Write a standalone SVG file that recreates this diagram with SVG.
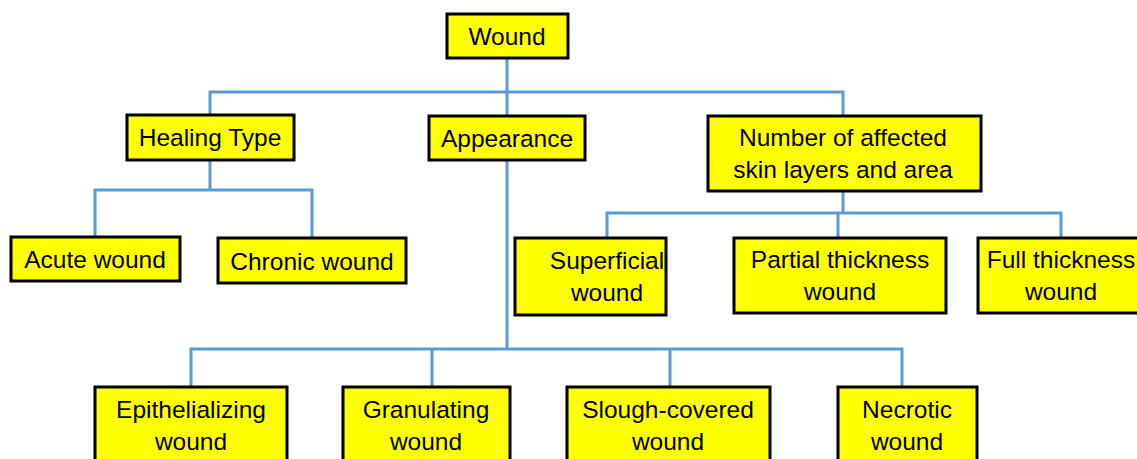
<svg xmlns="http://www.w3.org/2000/svg" width="1137" height="459" viewBox="0 0 1137 459">
<style>
.box{fill:#FFFF00;stroke:#000;stroke-width:3}
.t{font-family:"Liberation Sans",Arial,sans-serif;font-size:24.5px;fill:#000;text-anchor:middle}
.c{fill:none;stroke:#5B9BD5;stroke-width:3}
</style>
<rect width="1137" height="459" fill="#fff"/>
<g id="connectors">
<path class="c" d="M507 58V116M210 115V92H843V116"/>
<path class="c" d="M210 160V190M95 237V190H312V238"/>
<path class="c" d="M843 191V213M607 238V213H1061V238M838 213V238"/>
<path class="c" d="M507 160V349M191 387V349H902V387M432 349V387M670 349V387"/>
</g>
<g id="wound"><rect class="box" x="447" y="14" width="121" height="44"/><text class="t" x="507" y="45">Wound</text></g>
<g id="healing"><rect class="box" x="127" y="115" width="167" height="45"/><text class="t" x="210" y="146">Healing Type</text></g>
<g id="appearance"><rect class="box" x="429" y="116" width="156" height="44"/><text class="t" x="507" y="147">Appearance</text></g>
<g id="layers"><rect class="box" x="708" y="116" width="273" height="75"/><text class="t" x="843" y="146">Number of affected</text><text class="t" x="843" y="178">skin layers and area</text></g>
<g id="acute"><rect class="box" x="11" y="237" width="169" height="44"/><text class="t" x="95" y="268">Acute wound</text></g>
<g id="chronic"><rect class="box" x="218" y="238" width="188" height="45"/><text class="t" x="312" y="270">Chronic wound</text></g>
<g id="superficial"><rect class="box" x="515" y="238" width="151" height="77"/><text class="t" x="607" y="269">Superficial</text><text class="t" x="607" y="301">wound</text></g>
<g id="partial"><rect class="box" x="734" y="238" width="212" height="75"/><text class="t" x="840" y="268">Partial thickness</text><text class="t" x="840" y="300">wound</text></g>
<g id="full"><rect class="box" x="978" y="238" width="170" height="75"/><text class="t" x="1061" y="268">Full thickness</text><text class="t" x="1061" y="300">wound</text></g>
<g id="epithelializing"><rect class="box" x="95" y="387" width="192" height="85"/><text class="t" x="191" y="418">Epithelializing</text><text class="t" x="191" y="450">wound</text></g>
<g id="granulating"><rect class="box" x="343" y="387" width="167" height="85"/><text class="t" x="426" y="418">Granulating</text><text class="t" x="426" y="450">wound</text></g>
<g id="slough"><rect class="box" x="567" y="387" width="203" height="85"/><text class="t" x="668" y="418">Slough-covered</text><text class="t" x="668" y="450">wound</text></g>
<g id="necrotic"><rect class="box" x="838" y="387" width="139" height="85"/><text class="t" x="907" y="418">Necrotic</text><text class="t" x="907" y="450">wound</text></g>
</svg>
